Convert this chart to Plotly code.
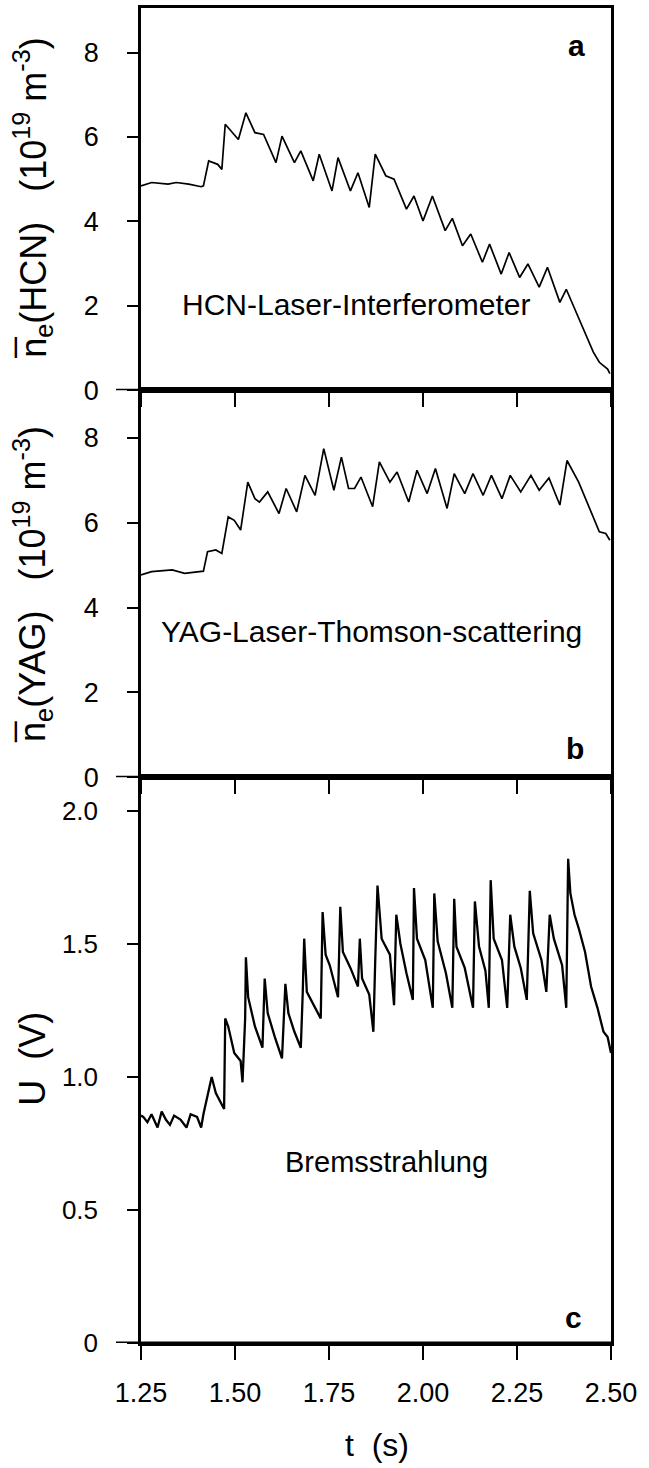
import plotly.graph_objects as go
from plotly.subplots import make_subplots

# ---------------- data ----------------
# Panel a: line-averaged density, HCN laser interferometer (1e19 m^-3)
t_hcn = [1.250, 1.278, 1.322, 1.344, 1.377, 1.410, 1.416, 1.430, 1.454, 1.465,
         1.474, 1.509, 1.529, 1.553, 1.576, 1.609, 1.625, 1.658, 1.675, 1.708,
         1.724, 1.758, 1.774, 1.807, 1.827, 1.857, 1.873, 1.901, 1.923, 1.956,
         1.976, 2.000, 2.025, 2.059, 2.078, 2.105, 2.127, 2.158, 2.177, 2.208,
         2.229, 2.257, 2.279, 2.309, 2.331, 2.364, 2.381, 2.453, 2.469, 2.491,
         2.497]
ne_hcn = [4.84, 4.92, 4.88, 4.92, 4.88, 4.82, 4.84, 5.43, 5.35, 5.23,
          6.30, 5.94, 6.57, 6.10, 6.06, 5.39, 6.02, 5.39, 5.67, 4.96,
          5.59, 4.72, 5.51, 4.72, 5.15, 4.33, 5.59, 5.08, 5.00, 4.29,
          4.60, 4.01, 4.60, 3.78, 4.07, 3.42, 3.70, 3.03, 3.46, 2.75,
          3.26, 2.67, 2.99, 2.44, 2.91, 2.08, 2.39, 0.90, 0.66, 0.50,
          0.39]

# Panel b: line-averaged density, YAG laser Thomson scattering (1e19 m^-3)
t_yag = [1.250, 1.278, 1.333, 1.366, 1.416, 1.427, 1.449, 1.465, 1.482, 1.498,
         1.515, 1.534, 1.553, 1.565, 1.587, 1.617, 1.636, 1.664, 1.686, 1.713,
         1.736, 1.763, 1.783, 1.802, 1.818, 1.835, 1.866, 1.884, 1.912, 1.931,
         1.962, 1.984, 2.011, 2.033, 2.064, 2.083, 2.111, 2.133, 2.160, 2.182,
         2.210, 2.232, 2.260, 2.287, 2.309, 2.335, 2.364, 2.383, 2.414, 2.442,
         2.469, 2.486, 2.497]
ne_yag = [4.77, 4.85, 4.89, 4.81, 4.86, 5.32, 5.36, 5.28, 6.14, 6.06,
          5.83, 6.96, 6.57, 6.49, 6.73, 6.22, 6.81, 6.26, 7.12, 6.65,
          7.75, 6.77, 7.55, 6.81, 6.81, 7.08, 6.38, 7.44, 6.96, 7.20,
          6.49, 7.24, 6.69, 7.28, 6.34, 7.16, 6.69, 7.16, 6.65, 7.12,
          6.57, 7.12, 6.73, 7.12, 6.77, 7.06, 6.42, 7.47, 6.96, 6.38,
          5.79, 5.75, 5.59]

# Panel c: bremsstrahlung detector output voltage (V)
t_brems = [1.250, 1.256, 1.267, 1.278, 1.294, 1.305, 1.316, 1.327, 1.338, 1.355,
           1.371, 1.382, 1.399, 1.410, 1.416, 1.432, 1.438, 1.449, 1.465, 1.471,
           1.474, 1.482, 1.498, 1.515, 1.520, 1.527, 1.529, 1.535, 1.553, 1.573,
           1.579, 1.587, 1.606, 1.625, 1.634, 1.642, 1.658, 1.675, 1.680, 1.684,
           1.691, 1.713, 1.728, 1.733, 1.741, 1.752, 1.774, 1.780, 1.787, 1.807,
           1.827, 1.832, 1.838, 1.857, 1.868, 1.873, 1.879, 1.890, 1.912, 1.923,
           1.929, 1.940, 1.956, 1.973, 1.976, 1.984, 2.006, 2.026, 2.030, 2.039,
           2.061, 2.078, 2.083, 2.089, 2.111, 2.133, 2.138, 2.149, 2.166, 2.175,
           2.180, 2.188, 2.210, 2.224, 2.232, 2.243, 2.260, 2.276, 2.284, 2.293,
           2.315, 2.328, 2.337, 2.348, 2.370, 2.381, 2.386, 2.392, 2.403, 2.414,
           2.431, 2.447, 2.464, 2.480, 2.491, 2.500]
u_brems = [0.855, 0.85, 0.83, 0.86, 0.81, 0.87, 0.84, 0.82, 0.855, 0.84,
           0.81, 0.86, 0.85, 0.81, 0.86, 0.97, 1.00, 0.94, 0.90, 0.88,
           1.22, 1.19, 1.09, 1.06, 0.98, 1.22, 1.45, 1.30, 1.19, 1.11,
           1.37, 1.24, 1.15, 1.07, 1.35, 1.24, 1.17, 1.11, 1.31, 1.52,
           1.32, 1.26, 1.22, 1.62, 1.46, 1.42, 1.30, 1.64, 1.47, 1.41,
           1.34, 1.52, 1.37, 1.31, 1.17, 1.44, 1.72, 1.52, 1.46, 1.27,
           1.61, 1.50, 1.39, 1.29, 1.71, 1.52, 1.44, 1.26, 1.69, 1.51,
           1.39, 1.26, 1.67, 1.49, 1.41, 1.26, 1.66, 1.49, 1.40, 1.26,
           1.74, 1.52, 1.44, 1.26, 1.61, 1.49, 1.41, 1.29, 1.70, 1.54,
           1.44, 1.32, 1.61, 1.52, 1.42, 1.26, 1.82, 1.69, 1.61, 1.56,
           1.47, 1.34, 1.26, 1.17, 1.15, 1.09]

x_tickvals = [1.25, 1.50, 1.75, 2.00, 2.25, 2.50]
x_ticktext = ["1.25", "1.50", "1.75", "2.00", "2.25", "2.50"]
ne_tickvals = [0, 2, 4, 6, 8]
u_tickvals = [0, 0.5, 1.0, 1.5, 2.0]
u_ticktext = ["0", "0.5", "1.0", "1.5", "2.0"]

# ---------------- figure ----------------
FONT = "Liberation Sans, Arial, sans-serif"
W, H = 649, 1468
ML, MR, MT, MB = 141, 38, 5, 125
PW = W - ML - MR

fig = make_subplots(rows=3, cols=1, shared_xaxes=True, vertical_spacing=0)

fig.add_trace(go.Scatter(x=t_hcn, y=ne_hcn, mode="lines",
                         line=dict(color="black", width=1.7)), row=1, col=1)
fig.add_trace(go.Scatter(x=t_yag, y=ne_yag, mode="lines",
                         line=dict(color="black", width=1.7)), row=2, col=1)
fig.add_trace(go.Scatter(x=t_brems, y=u_brems, mode="lines",
                         line=dict(color="black", width=2.3)), row=3, col=1)

# domains (pixel heights 383 / 388 / 567)
tot = 383 + 388 + 567
dc = 567 / tot
db = (567 + 388) / tot

axis_common = dict(showline=True, linecolor="black", linewidth=2.5, mirror=True,
                   showgrid=False, zeroline=False, ticks="outside",
                   tickcolor="black", tickwidth=2)

for i in (1, 2, 3):
    xa = dict(axis_common, range=[1.25, 2.5], tickvals=x_tickvals, ticktext=x_ticktext,
              ticklen=14, showticklabels=(i == 3),
              tickfont=dict(family=FONT, size=27, color="black"), ticklabelstandoff=10)
    fig.update_xaxes(xa, row=i, col=1)

fig.update_yaxes(axis_common, row=1, col=1, range=[0, 383 / 42.3], domain=[db, 1],
                 tickvals=ne_tickvals, ticklen=11,
                 tickfont=dict(family=FONT, size=27, color="black"), ticklabelstandoff=23)
fig.update_yaxes(axis_common, row=2, col=1, range=[0, 388 / 42.5], domain=[dc, db],
                 tickvals=ne_tickvals, ticklen=11,
                 tickfont=dict(family=FONT, size=27, color="black"), ticklabelstandoff=23)
fig.update_yaxes(axis_common, row=3, col=1, range=[0, 567 / 266.6], domain=[0, dc],
                 tickvals=u_tickvals, ticktext=u_ticktext, ticklen=11,
                 tickfont=dict(family=FONT, size=26, color="black"), ticklabelstandoff=24)

# zero lines extending left of the frame
for yr in ("y", "y2", "y3"):
    fig.add_shape(type="line", xref="paper", yref=yr, x0=-25 / PW, x1=1, y0=0, y1=0,
                  line=dict(color="black", width=3))


def px_x(px):
    return (px - ML) / PW


def px_y(py):
    return 1 - (py - MT) / (H - MT - MB)


ann = []
nb = "\u00a0"
title_a = ("n\u0305<sub>e</sub>(HCN)" + nb * 3 + "(10<sup>19</sup>" + nb + "m<sup>-3</sup>)")
title_b = ("n\u0305<sub>e</sub>(YAG)" + nb * 3 + "(10<sup>19</sup>" + nb + "m<sup>-3</sup>)")
title_c = "U" + nb * 2 + "(V)"
for txt, cy in ((title_a, 196), (title_b, 583), (title_c, 1058)):
    ann.append(dict(text=txt, x=px_x(33), y=px_y(cy), xref="paper", yref="paper",
                    textangle=-90, showarrow=False, xanchor="center", yanchor="middle",
                    font=dict(family=FONT, size=36, color="black")))

labels = [
    ("<b>a</b>", 576, 43, 30),
    ("HCN-Laser-Interferometer", 356, 302, 30),
    ("YAG-Laser-Thomson-scattering", 371, 630, 30),
    ("<b>b</b>", 575, 747, 30),
    ("Bremsstrahlung", 386, 1162, 29),
    ("<b>c</b>", 573, 1317, 30),
    ("t" + nb * 2 + "(s)", 377, 1445, 32),
]
for txt, cx, cy, fs in labels:
    ann.append(dict(text=txt, x=px_x(cx), y=px_y(cy), xref="paper", yref="paper",
                    showarrow=False, xanchor="center", yanchor="middle",
                    font=dict(family=FONT, size=fs, color="black")))

fig.update_layout(width=W, height=H, autosize=False,
                  margin=dict(l=ML, r=MR, t=MT, b=MB),
                  paper_bgcolor="white", plot_bgcolor="white",
                  showlegend=False, annotations=ann,
                  font=dict(family=FONT, color="black"))

fig.write_html("out.html")
